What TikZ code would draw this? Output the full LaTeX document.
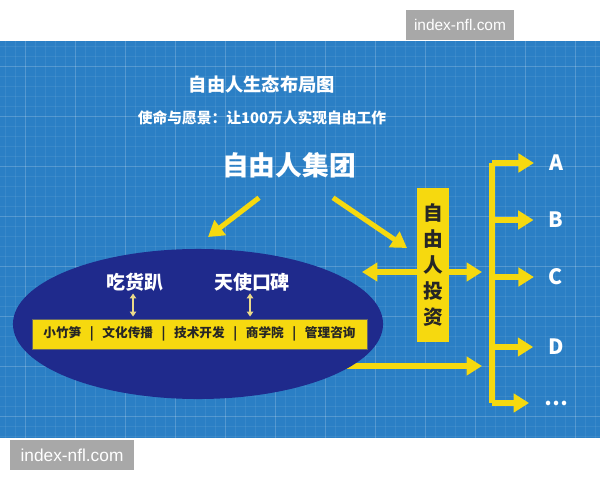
\documentclass[tikz,border=0pt]{standalone}
\usepackage{fontspec}
\newfontfamily\cjk{Noto Sans CJK SC}
\setsansfont{Liberation Sans}
\usetikzlibrary{arrows.meta,shapes.geometric}
\definecolor{panelblue}{HTML}{2B7FC5}
\definecolor{navy}{HTML}{1F2A8C}
\definecolor{gold}{HTML}{F6D90F}
\definecolor{paleyellow}{HTML}{EAD98A}
\definecolor{ink}{HTML}{262626}
\definecolor{wmgray}{HTML}{A8A8A8}
\tikzset{
  minorgrid/.style={draw=white, opacity=0.07, line width=0.3pt},
  majorgrid/.style={draw=white, opacity=0.14, line width=0.6pt},
  wmbox/.style={fill=wmgray, text=white, minimum height=0.75cm, inner sep=0pt},
  bigarrow/.style={draw=gold, line width=3.6pt, -{Triangle[length=11pt,width=13pt]}},
  smallarrow/.style={draw=paleyellow, line width=1.3pt, {Triangle[length=3.5pt,width=4.5pt]}-{Triangle[length=3.5pt,width=4.5pt]}},
  whitetext/.style={text=white, font=\cjk\bfseries\fontsize{#1}{#1}\selectfont},
  brand/.style={text=white, inner sep=0pt, font=\cjk\bfseries\fontsize{13.5}{14}\selectfont},
  letter/.style={text=white, inner sep=0pt, anchor=center, font=\cjk\bfseries\fontsize{15}{15}\selectfont},
  investbox/.style={fill=gold, minimum width=0.8cm, minimum height=3.85cm, inner sep=0pt, align=center, text=ink, font=\cjk\bfseries\fontsize{14}{18.5}\selectfont},
  unitbar/.style={fill=gold, draw=ink!70, line width=0.6pt, minimum width=8.375cm, minimum height=0.75cm, inner sep=0pt, text=ink, font=\cjk\bfseries\fontsize{9}{10}\selectfont}
}
\newcommand{\sepbar}{\makebox[15pt]{|}}
\begin{document}
\begin{tikzpicture}[x=0.025cm,y=-0.025cm]
\useasboundingbox (0,0) rectangle (600,480);
% blueprint panel
\fill[panelblue] (0,41) rectangle (600,438);
\foreach \x in {5,15,...,595} \draw[minorgrid] (\x,41) -- (\x,438);
\foreach \y in {46,56,...,436} \draw[minorgrid] (0,\y) -- (600,\y);
\foreach \x in {25,75,...,575} \draw[majorgrid] (\x,41) -- (\x,438);
\foreach \y in {66,116,...,416} \draw[majorgrid] (0,\y) -- (600,\y);
% watermarks
\node[wmbox, minimum width=2.7cm, font=\sffamily\fontsize{11}{12}\selectfont] (wmtop) at (460,25) {index-nfl.com};
\node[wmbox, minimum width=3.1cm, font=\sffamily\fontsize{12.3}{13}\selectfont] (wmbottom) at (72,455) {index-nfl.com};
% headings
\node[whitetext=13] (title) at (262,84) {自由人生态布局图};
\node[whitetext=10.5] (motto) at (262,118) {使命与愿景：让100万人实现自由工作};
\node[whitetext=19] (group) at (289,165) {自由人集团};
% investment bus
\coordinate (bustop) at (492,163);
\coordinate (busbottom) at (492,403);
\coordinate (ecoout) at (340,366);
\coordinate (invleft) at (362,272);
\draw[draw=gold, line width=3.6pt] (bustop) -- (busbottom);
\foreach \n/\y/\t in {A/163/A, B/220/B, C/277/C, D/347/D, E/403/{…}} {
  \node[letter] (l\n) at (556,\y) {\t};
  \coordinate (b\n) at (492,\y);
  \draw[bigarrow, shorten >=0.37cm] (b\n) -- (b\n -| l\n.west);
}
\draw[bigarrow, shorten >=0.25cm] (ecoout) -- (ecoout -| bustop);
\draw[bigarrow, {Triangle[length=11pt,width=13pt]}-{Triangle[length=11pt,width=13pt]}, shorten >=0.25cm] (invleft) -- (invleft -| bustop);
\node[investbox] (invest) at (433,265) {自\\由\\人\\投\\资};
% ecosystem
\node[ellipse, fill=navy, minimum width=9.25cm, minimum height=3.75cm, inner sep=0pt] (eco) at (198,324) {};
\node[brand] (chihuo) at (135,282) {吃货趴};
\node[brand] (tianshi) at (252,282) {天使口碑};
\node[unitbar] (units) at (199.5,334) {小竹笋\sepbar 文化传播\sepbar 技术开发\sepbar 商学院\sepbar 管理咨询};
\draw[smallarrow, shorten <=0.05cm, shorten >=0.05cm] ([xshift=-1.4pt]chihuo.south) -- ([xshift=-1.4pt]chihuo.south |- units.north);
\draw[smallarrow, shorten <=0.05cm, shorten >=0.05cm] ([xshift=-1.4pt]tianshi.south) -- ([xshift=-1.4pt]tianshi.south |- units.north);
% from the group
\draw[bigarrow] ([shift={(-30,15)}]group.south) -- (208,237);
\draw[bigarrow] ([shift={(44,15)}]group.south) -- (407,248);
\end{tikzpicture}
\end{document}
